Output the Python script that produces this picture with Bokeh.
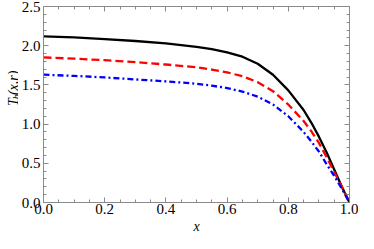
import math
from bokeh.plotting import figure
from bokeh.models import Range1d, LinearAxis, SingleIntervalTicker, PrintfTickFormatter, Title
from bokeh.layouts import row
from bokeh.core.properties import value
from bokeh.embed import file_html
from bokeh.resources import INLINE

# data
x_vals = [0.0, 0.1, 0.2, 0.3, 0.4, 0.5, 0.55, 0.6, 0.65, 0.7, 0.75, 0.8, 0.85,
          0.875, 0.9, 0.925, 0.95, 0.975, 1.0]
t_black = [2.12, 2.105, 2.085, 2.06, 2.03, 1.985, 1.955, 1.915, 1.86, 1.77, 1.63, 1.43, 1.18,
           1.02, 0.84, 0.64, 0.42, 0.2, 0.0]
t_red = [1.85, 1.835, 1.815, 1.79, 1.76, 1.725, 1.695, 1.66, 1.61, 1.535, 1.42, 1.25, 1.04,
         0.91, 0.76, 0.58, 0.39, 0.2, 0.0]
t_blue = [1.63, 1.615, 1.595, 1.57, 1.545, 1.515, 1.49, 1.46, 1.415, 1.35, 1.25, 1.10, 0.90,
          0.78, 0.65, 0.49, 0.34, 0.175, 0.0]

x_range = (0.0, 1.0)
y_range = (0.0, 2.5)
x_label = "x"
y_label_parts = ["T", "b", "(x,r)"]

FONT = "Liberation Serif"
FRAME = "#8a8a8a"

TOTAL_H = 233
YLAB_W = 18
MAIN_W = 358 - YLAB_W
BL, BR, BT = 21, 9, 6
BB_EST = 40

p = figure(width=MAIN_W, height=TOTAL_H, output_backend="svg", toolbar_location=None,
           title=None, x_range=Range1d(*x_range), y_range=Range1d(*y_range),
           min_border_left=BL, min_border_right=BR, min_border_top=BT, min_border_bottom=18)
p.grid.visible = False
p.outline_line_color = FRAME
p.background_fill_color = "white"
p.border_fill_color = "white"

p.line(x_vals, t_black, line_color="black", line_width=2.3)
p.line(x_vals, t_red, line_color="#ff0000", line_width=2.3, line_dash="8 4")
p.line(x_vals, t_blue, line_color="#0000ff", line_width=2.3, line_dash="6 3 2 3")


def style(ax, xt, show_labels):
    ax.ticker = SingleIntervalTicker(interval=0.2 if xt else 0.5,
                                     num_minor_ticks=4 if xt else 5)
    ax.axis_line_color = FRAME
    ax.major_tick_line_color = FRAME
    ax.minor_tick_line_color = FRAME
    ax.major_tick_in = 5
    ax.major_tick_out = 0
    ax.minor_tick_in = 3
    ax.minor_tick_out = 0
    ax.formatter = PrintfTickFormatter(format="%.1f")
    if show_labels:
        ax.major_label_text_font = FONT
        ax.major_label_text_font_size = "15px"
        ax.major_label_text_color = "black"
        ax.major_label_standoff = 1
    else:
        ax.major_label_text_color = None
        ax.major_label_text_font_size = "1px"
        ax.major_label_standoff = 0


style(p.xaxis[0], True, True)
style(p.yaxis[0], False, True)
p.yaxis[0].major_label_standoff = 3

top = LinearAxis()
right = LinearAxis()
style(top, True, False)
style(right, False, False)
p.add_layout(top, "above")
p.add_layout(right, "right")

# x label below the plot
p.add_layout(Title(text=x_label, align="center", text_font=FONT, text_font_style="italic",
                   text_font_size="14px", text_color="black", standoff=0), "below")

# left strip holding the rotated y label T_b(x,r)
ylab = figure(width=YLAB_W, height=TOTAL_H, output_backend="svg", toolbar_location=None,
              title=None, x_range=Range1d(0, YLAB_W), y_range=Range1d(0, TOTAL_H),
              x_axis_location=None, y_axis_location=None, min_border=0)
ylab.grid.visible = False
ylab.outline_line_color = None
frame_mid_from_bottom = (BB_EST + TOTAL_H - BT) / 2
fs_big, fs_small = 14, 10
w_T = 0.556 * fs_big
w_b = 0.5 * fs_small
w_rest = (0.333 + 0.444 + 0.25 + 0.389 + 0.333) * fs_big
total = w_T + w_b + w_rest
y0 = frame_mid_from_bottom - total / 2
bx = 13
ang = math.pi / 2
common = dict(angle=ang, text_font=value(FONT), text_font_style="italic", text_color="black",
              text_align="left", text_baseline="alphabetic")
ylab.text([bx], [y0], text=[y_label_parts[0]], text_font_size=f"{fs_big}px", **common)
ylab.text([bx + 2.5], [y0 + w_T], text=[y_label_parts[1]], text_font_size=f"{fs_small}px", **common)
ylab.text([bx], [y0 + w_T + w_b], text=[y_label_parts[2]], text_font_size=f"{fs_big}px", **common)

layout = row(ylab, p, spacing=0)
open("out.html", "w").write(file_html(layout, INLINE))
